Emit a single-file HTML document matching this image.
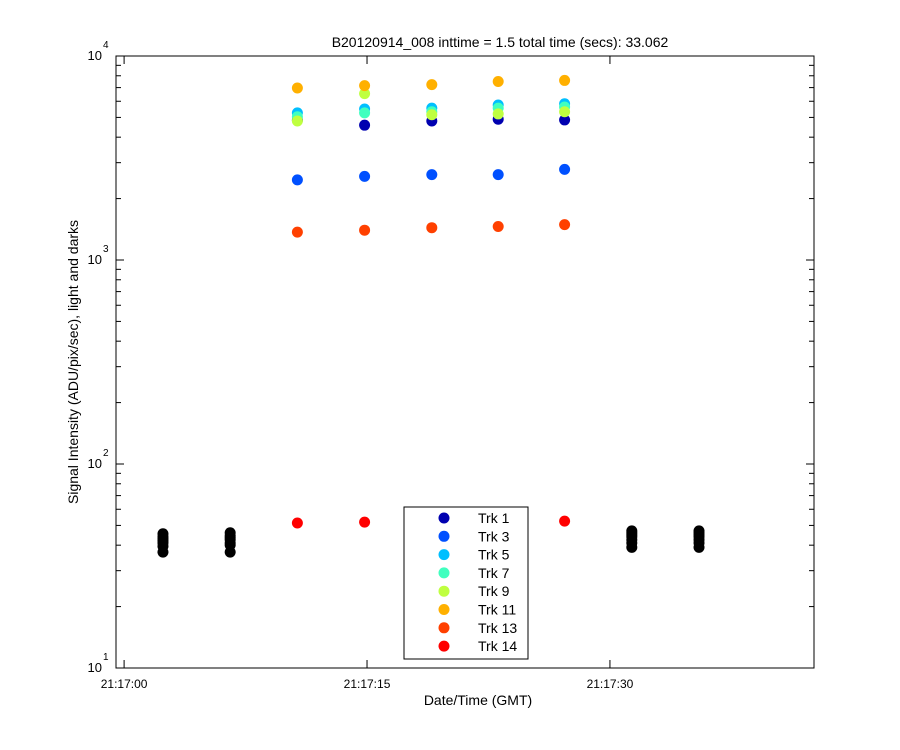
<!DOCTYPE html>
<html><head><meta charset="utf-8"><style>
body{margin:0;background:#fff;}
svg{display:block;font-family:"Liberation Sans",sans-serif;}
</style></head><body>
<svg id="c" width="900" height="750"></svg>
<script>
const times=[2.4,6.55,10.7,14.85,19.0,23.1,27.2,31.35,35.5];
const trkNames=['Trk 1','Trk 3','Trk 5','Trk 7','Trk 9','Trk 11','Trk 13','Trk 14'];
const trkColors=['#0000b0','#0050ff','#00bfff','#40ffbf','#bfff40','#ffb000','#ff4000','#ff0000'];
const trk1=[null,null,4850,4580,4800,4900,4860,null,null];
const trk3=[null,null,2470,2570,2620,2620,2780,null,null];
const trk5=[null,null,5260,5500,5550,5750,5830,null,null];
const trk7=[null,null,5040,5260,5330,5550,5620,null,null];
const trk9=[null,null,4800,6540,5150,5200,5330,null,null];
const trk11=[null,null,6970,7160,7240,7500,7590,null,null];
const trk13=[null,null,1370,1400,1440,1460,1490,null,null];
const trk14=[null,null,51.4,51.9,52,52,52.5,null,null];
const darkTimes=[2.4,6.55,31.35,35.5];
const darkValues=[[37,39.5,41,42,43,44,45.5],[37,40,41,42.5,43.5,44.5,46],[39,41,42.5,44,45,46,47],[39,41,42.5,44,45,46,47]];
const xTickVals=[0,15,30];
const xTickLabels=['21:17:00','21:17:15','21:17:30'];
const yDecades=[1,2,3,4];

const L=116,R=814,T=56,B=668;
const xMin=-0.5,xMax=42.6;
const X=t=>L+(t-xMin)/(xMax-xMin)*(R-L);
const Y=v=>B-(Math.log10(v)-1)/3*(B-T);
const svg=document.getElementById('c');
const NS='http://www.w3.org/2000/svg';
function mk(tag,a,p){const e=document.createElementNS(NS,tag);for(const k in a)e.setAttribute(k,a[k]);(p||svg).appendChild(e);return e;}

const frame=mk('rect',{x:L,y:T,width:R-L,height:B-T,fill:'none',stroke:'#000','stroke-width':1});



for(let d=1;d<=3;d++){for(let m=1;m<10;m++){const v=m*Math.pow(10,d);const y=Y(v);const len=m===1?8:5;
 mk('line',{x1:L,x2:L+len,y1:y,y2:y,stroke:'#000'});mk('line',{x1:R,x2:R-len,y1:y,y2:y,stroke:'#000'});}}
yDecades.forEach(d=>{const y=Y(Math.pow(10,d));
 const g=mk('text',{x:L-14,y:y+4,'font-size':13,'text-anchor':'end'});g.textContent='10';
 
 
 const s=mk('text',{x:L-13,y:y-8,'font-size':10});s.textContent=String(d);});
xTickVals.forEach((t,i)=>{const x=X(t);
 mk('line',{x1:x,x2:x,y1:B,y2:B-8,stroke:'#000'});mk('line',{x1:x,x2:x,y1:T,y2:T+8,stroke:'#000'});
 const e=mk('text',{x:x,y:B+20,'font-size':12,'text-anchor':'middle'});e.textContent=xTickLabels[i];
 
 });

const tt=mk('text',{x:500,y:47,'font-size':14,'text-anchor':'middle'});tt.textContent='B20120914_008 inttime = 1.5 total time (secs): 33.062';


const xt=mk('text',{x:478,y:705,'font-size':14,'text-anchor':'middle'});xt.textContent='Date/Time (GMT)';


const yt=mk('text',{x:78,y:362,'font-size':14,'text-anchor':'middle',transform:'rotate(-90 78 362)'});yt.textContent='Signal Intensity (ADU/pix/sec), light and darks';



darkTimes.forEach((t,i)=>{darkValues[i].forEach(v=>{const c=mk('circle',{cx:X(t),cy:Y(v),r:5.5,fill:'#000'});
 
 });});
const series=[trk1,trk3,trk5,trk7,trk9,trk11,trk13,trk14];
series.forEach((s,k)=>{s.forEach((v,i)=>{if(v==null)return;const c=mk('circle',{cx:X(times[i]),cy:Y(v),r:5.5,fill:trkColors[k]});
 
 });});

const lg=mk('g',{});


mk('rect',{x:404,y:507,width:124,height:152,fill:'#fff',stroke:'#000'},lg);
trkNames.forEach((n,k)=>{const y=518+k*18.3;
 mk('circle',{cx:444,cy:y,r:5.5,fill:trkColors[k]},lg);
 const e=mk('text',{x:478,y:y+5,'font-size':14},lg);e.textContent=n;
 
 });
</script>
</body></html>
